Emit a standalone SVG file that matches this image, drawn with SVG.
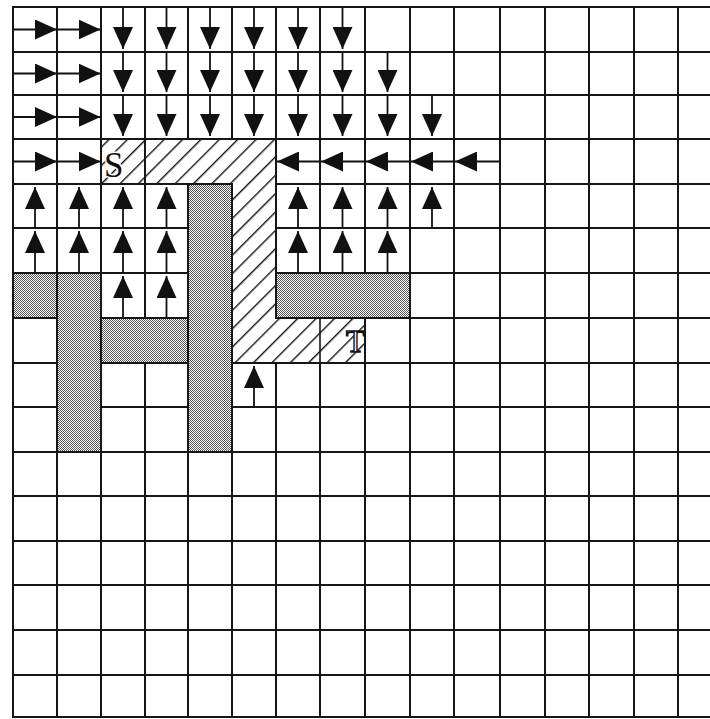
<svg xmlns="http://www.w3.org/2000/svg" width="710" height="719" viewBox="0 0 710 719">
<style>
.grid line{stroke:#161616;stroke-width:2}
.gray{fill:url(#dots);stroke:#161616;stroke-width:2}
.hatch{fill:url(#hat);stroke:#161616;stroke-width:2}
.conn line{stroke:#111;stroke-width:1.8;marker-end:url(#ah)}
.lbl{font-family:"Liberation Serif",serif}
</style>
<defs>
<pattern id="dots" patternUnits="userSpaceOnUse" width="2" height="2">
<rect width="2" height="2" fill="#fff"/>
<rect x="0" y="0" width="1" height="1" fill="#555"/>
<rect x="1" y="1" width="1" height="1" fill="#555"/>
</pattern>
<pattern id="hat" patternUnits="userSpaceOnUse" width="13" height="13" patternTransform="rotate(45)">
<rect width="13" height="13" fill="#fff"/>
<rect x="6" y="0" width="1.4" height="13" fill="#111"/>
</pattern>
<marker id="ah" markerUnits="userSpaceOnUse" viewBox="0 0 22 20" markerWidth="22" markerHeight="20" refX="22" refY="10" orient="auto">
<path d="M0,0 L22,10 L0,20 Z" fill="#111"/>
</marker>
</defs>
<rect width="710" height="719" fill="#fff"/>
<g id="grid" class="grid">
<line x1="13" y1="7" x2="13" y2="717"/>
<line x1="57" y1="7" x2="57" y2="717"/>
<line x1="101" y1="7" x2="101" y2="717"/>
<line x1="145" y1="7" x2="145" y2="717"/>
<line x1="188" y1="7" x2="188" y2="717"/>
<line x1="232" y1="7" x2="232" y2="717"/>
<line x1="276" y1="7" x2="276" y2="717"/>
<line x1="320" y1="7" x2="320" y2="717"/>
<line x1="365" y1="7" x2="365" y2="717"/>
<line x1="410" y1="7" x2="410" y2="717"/>
<line x1="454" y1="7" x2="454" y2="717"/>
<line x1="500" y1="7" x2="500" y2="717"/>
<line x1="545" y1="7" x2="545" y2="717"/>
<line x1="589" y1="7" x2="589" y2="717"/>
<line x1="634" y1="7" x2="634" y2="717"/>
<line x1="678" y1="7" x2="678" y2="717"/>
<line x1="12" y1="7" x2="710" y2="7"/>
<line x1="12" y1="52" x2="710" y2="52"/>
<line x1="12" y1="95" x2="710" y2="95"/>
<line x1="12" y1="139" x2="710" y2="139"/>
<line x1="12" y1="184" x2="710" y2="184"/>
<line x1="12" y1="228" x2="710" y2="228"/>
<line x1="12" y1="273" x2="710" y2="273"/>
<line x1="12" y1="318" x2="710" y2="318"/>
<line x1="12" y1="363" x2="710" y2="363"/>
<line x1="12" y1="407" x2="710" y2="407"/>
<line x1="12" y1="452" x2="710" y2="452"/>
<line x1="12" y1="496" x2="710" y2="496"/>
<line x1="12" y1="541" x2="710" y2="541"/>
<line x1="12" y1="585" x2="710" y2="585"/>
<line x1="12" y1="630" x2="710" y2="630"/>
<line x1="12" y1="675" x2="710" y2="675"/>
<line x1="12" y1="717" x2="710" y2="717"/>
</g>
<g id="obstacles">
<rect class="gray" x="13" y="273" width="44" height="45"/>
<rect class="gray" x="57" y="273" width="44" height="179"/>
<rect class="gray" x="101" y="318" width="87" height="45"/>
<rect class="gray" x="188" y="184" width="44" height="268"/>
<rect class="gray" x="276" y="273" width="134" height="45"/>
</g>
<g id="path-region">
<path class="hatch" d="M145,139 H276 V318 H365 V363 H232 V184 H145 Z"/>
<line x1="320" y1="318" x2="320" y2="363" stroke="#161616" stroke-width="1.6"/>
</g>
<g id="node-S">
<rect class="hatch" x="101" y="139" width="44" height="45"/>
<text class="lbl" x="104" y="177" font-size="35" fill="#111" stroke="#fff" stroke-width="3" paint-order="stroke">S</text>
</g>
<g id="node-T">
<text class="lbl" x="346" y="352" font-size="31" fill="#fff" stroke="#111" stroke-width="1.4">T</text>
</g>
<g id="connectors" class="conn">
<line x1="13" y1="29.5" x2="57" y2="29.5"/>
<line x1="57" y1="29.5" x2="100.5" y2="29.5"/>
<line x1="123" y1="7" x2="123" y2="49"/>
<line x1="166.5" y1="7" x2="166.5" y2="49"/>
<line x1="210" y1="7" x2="210" y2="49"/>
<line x1="254" y1="7" x2="254" y2="49"/>
<line x1="298" y1="7" x2="298" y2="49"/>
<line x1="342.5" y1="7" x2="342.5" y2="49"/>
<line x1="13" y1="73.5" x2="57" y2="73.5"/>
<line x1="57" y1="73.5" x2="100.5" y2="73.5"/>
<line x1="123" y1="52" x2="123" y2="92"/>
<line x1="166.5" y1="52" x2="166.5" y2="92"/>
<line x1="210" y1="52" x2="210" y2="92"/>
<line x1="254" y1="52" x2="254" y2="92"/>
<line x1="298" y1="52" x2="298" y2="92"/>
<line x1="342.5" y1="52" x2="342.5" y2="92"/>
<line x1="387.5" y1="52" x2="387.5" y2="92"/>
<line x1="13" y1="117" x2="57" y2="117"/>
<line x1="57" y1="117" x2="100.5" y2="117"/>
<line x1="123" y1="95" x2="123" y2="136"/>
<line x1="166.5" y1="95" x2="166.5" y2="136"/>
<line x1="210" y1="95" x2="210" y2="136"/>
<line x1="254" y1="95" x2="254" y2="136"/>
<line x1="298" y1="95" x2="298" y2="136"/>
<line x1="342.5" y1="95" x2="342.5" y2="136"/>
<line x1="387.5" y1="95" x2="387.5" y2="136"/>
<line x1="432" y1="95" x2="432" y2="136"/>
<line x1="13" y1="161.5" x2="57" y2="161.5"/>
<line x1="57" y1="161.5" x2="100.5" y2="161.5"/>
<line x1="320" y1="161.5" x2="277" y2="161.5"/>
<line x1="365" y1="161.5" x2="321" y2="161.5"/>
<line x1="410" y1="161.5" x2="366" y2="161.5"/>
<line x1="454" y1="161.5" x2="411" y2="161.5"/>
<line x1="500" y1="161.5" x2="455" y2="161.5"/>
<line x1="35" y1="228" x2="35" y2="187"/>
<line x1="79" y1="228" x2="79" y2="187"/>
<line x1="123" y1="228" x2="123" y2="187"/>
<line x1="166.5" y1="228" x2="166.5" y2="187"/>
<line x1="298" y1="228" x2="298" y2="187"/>
<line x1="342.5" y1="228" x2="342.5" y2="187"/>
<line x1="387.5" y1="228" x2="387.5" y2="187"/>
<line x1="432" y1="228" x2="432" y2="187"/>
<line x1="35" y1="273" x2="35" y2="231"/>
<line x1="79" y1="273" x2="79" y2="231"/>
<line x1="123" y1="273" x2="123" y2="231"/>
<line x1="166.5" y1="273" x2="166.5" y2="231"/>
<line x1="298" y1="273" x2="298" y2="231"/>
<line x1="342.5" y1="273" x2="342.5" y2="231"/>
<line x1="387.5" y1="273" x2="387.5" y2="231"/>
<line x1="123" y1="318" x2="123" y2="276"/>
<line x1="166.5" y1="318" x2="166.5" y2="276"/>
<line x1="254" y1="407" x2="254" y2="366"/>
</g>
</svg>
